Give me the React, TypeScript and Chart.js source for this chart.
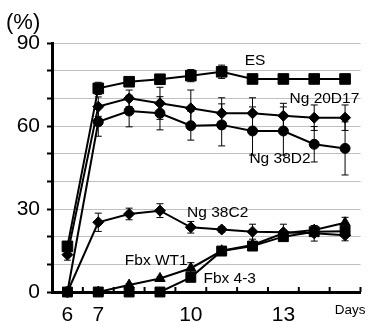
import React, { useEffect, useRef } from "react";
import { Chart, registerables } from "chart.js";

Chart.register(...registerables);

const days = ["6", "7", "8", "9", "10", "11", "12", "13", "14", "15"];
const shownDays = ["6", "7", "10", "13"];
const yTickLabels = [0, 30, 60, 90];

const es = [16.5, 73.6, 76, 76.9, 78.2, 79.6, 77, 77, 77, 77];
const esErr = [1.5, 2.2, 1.5, 1.5, 2.2, 2.4, 0, 0, 0, 0];
const ng20D17 = [13.5, 67, 70, 68.2, 66.4, 64.6, 64.6, 63.7, 63, 63];
const ng20D17Err = [2, 3.5, 3, 5.8, 6.6, 5.6, 5.6, 4.5, 4.6, 4.6];
const ng38D2 = [0, 61.5, 65.4, 64.6, 60.1, 60.4, 58.2, 58.2, 53.4, 51.9];
const ng38D2Err = [0, 5.2, 5.7, 6, 5.2, 7.6, 8.7, 8.7, 6.4, 9.6];
const ng38C2 = [0, 25.2, 28.2, 29.4, 23.4, 22.6, 21.8, 21.6, 21.2, 20.5];
const ng38C2Err = [0, 3.3, 2.1, 2.5, 2.1, 1, 2.7, 2.9, 2.8, 2];
const fbxWT1 = [0, 0, 2.5, 4.9, 8.6, 14.9, 17, 21.2, 22.4, 25];
const fbxWT1Err = [0, 0, 0.5, 0.5, 2, 1, 1, 1, 1.5, 2];
const fbx43 = [0, 0, 0, 0, 5.3, 14.8, 16.6, 20, 21.8, 22];
const fbx43Err = [0, 0, 0, 0, 1.5, 1, 1.5, 1.5, 1.5, 1.5];

const seriesNames = ["ES", "Ng 20D17", "Ng 38D2", "Ng 38C2", "Fbx WT1", "Fbx 4-3"];
// label anchor positions in data units (day index offset, percent)
const labelAnchors: [number, number][] = [
  [6.08, 83.5],
  [8.33, 69.7],
  [6.89, 48],
  [4.87, 28.7],
  [2.88, 11.2],
  [5.26, 4.7],
];

const FONT = "'Liberation Sans', Arial, sans-serif";

export default function App() {
  const ref = useRef<HTMLCanvasElement>(null);

  useEffect(() => {
    if (!ref.current) return;

    const errorBars = {
      id: "errorBars",
      afterDatasetsDraw(chart: any) {
        const ctx = chart.ctx;
        const xs = chart.scales.x;
        const ys = chart.scales.y;
        ctx.save();
        ctx.strokeStyle = "#000";
        ctx.lineWidth = 1;
        chart.data.datasets.forEach((ds: any) => {
          const errs: number[] = ds.errs || [];
          ds.data.forEach((v: number, i: number) => {
            const e = errs[i];
            if (!e) return;
            const x = xs.getPixelForValue(i);
            const y1 = ys.getPixelForValue(v + e);
            const y2 = ys.getPixelForValue(v - e);
            ctx.beginPath();
            ctx.moveTo(x, y1);
            ctx.lineTo(x, y2);
            ctx.moveTo(x - 3.5, y1);
            ctx.lineTo(x + 3.5, y1);
            ctx.moveTo(x - 3.5, y2);
            ctx.lineTo(x + 3.5, y2);
            ctx.stroke();
          });
        });
        ctx.restore();
      },
    };

    const decorations = {
      id: "decorations",
      afterDraw(chart: any) {
        const ctx = chart.ctx;
        const xs = chart.scales.x;
        const ys = chart.scales.y;
        const area = chart.chartArea;
        ctx.save();
        // upward category tick marks on x axis
        ctx.strokeStyle = "#000";
        ctx.lineWidth = 2;
        for (let i = 1; i <= days.length; i++) {
          const x = xs.getPixelForValue(i - 0.5);
          ctx.beginPath();
          ctx.moveTo(x, area.bottom);
          ctx.lineTo(x, area.bottom - 5);
          ctx.stroke();
        }
        // series labels
        ctx.fillStyle = "#000";
        ctx.font = `15.5px ${FONT}`;
        ctx.textAlign = "center";
        ctx.textBaseline = "middle";
        seriesNames.forEach((name, i) => {
          const [dx, dy] = labelAnchors[i];
          ctx.fillText(name, xs.getPixelForValue(dx), ys.getPixelForValue(dy));
        });
        // unit label and axis name
        ctx.font = `22px ${FONT}`;
        ctx.textAlign = "left";
        ctx.fillText("(%)", 6, 23);
        ctx.font = `13.5px ${FONT}`;
        ctx.textAlign = "right";
        ctx.fillText("Days", area.right + 5, area.bottom + 18);
        ctx.restore();
      },
    };

    const mk = (label: string, data: number[], errs: number[], style: string, r: number) => ({
      label,
      data,
      errs,
      borderColor: "#000",
      backgroundColor: "#000",
      pointBackgroundColor: "#000",
      pointBorderColor: "#000",
      pointBorderWidth: 1,
      borderWidth: 2,
      pointStyle: style,
      pointRadius: r,
      tension: 0,
      clip: false,
    });

    const chart = new Chart(ref.current, {
      type: "line",
      data: {
        labels: days,
        datasets: [
          mk("ES", es, esErr, "rect", 7.5),
          mk("Ng 20D17", ng20D17, ng20D17Err, "rectRot", 5.5),
          mk("Ng 38D2", ng38D2, ng38D2Err, "circle", 5),
          mk("Ng 38C2", ng38C2, ng38C2Err, "rectRot", 5.5),
          mk("Fbx WT1", fbxWT1, fbxWT1Err, "triangle", 6),
          mk("Fbx 4-3", fbx43, fbx43Err, "rect", 7),
        ] as any,
      },
      options: {
        animation: false,
        responsive: true,
        maintainAspectRatio: false,
        layout: { padding: { top: 43, right: 5, left: 0, bottom: 0 } },
        plugins: { legend: { display: false }, tooltip: { enabled: false } },
        scales: {
          x: {
            type: "category",
            offset: true,
            grid: { display: false, drawTicks: false },
            border: { display: true, color: "#000", width: 3 },
            ticks: {
              autoSkip: false,
              maxRotation: 0,
              padding: 11,
              color: "#000",
              font: { family: FONT, size: 21 },
              callback: (_v: any, i: number) => (shownDays.includes(days[i]) ? days[i] : ""),
            },
            afterFit: (s: any) => {
              s.height = 30;
            },
          },
          y: {
            min: 0,
            max: 90,
            grid: {
              color: "#c0c0c0",
              lineWidth: 1,
              tickColor: "#000",
              tickLength: 5,
              tickWidth: 2,
            },
            border: { display: true, color: "#000", width: 3 },
            ticks: {
              stepSize: 10,
              autoSkip: false,
              padding: 7,
              color: "#000",
              font: { family: FONT, size: 21 },
              callback: (v: any) => (yTickLabels.includes(Number(v)) ? String(v) : ""),
            },
            afterFit: (s: any) => {
              s.width = 52;
            },
          },
        },
      } as any,
      plugins: [errorBars, decorations],
    });

    return () => chart.destroy();
  }, []);

  return (
    <div style={{ position: "absolute", left: 0, top: 0, width: 369, height: 322, background: "#fff" }}>
      <canvas ref={ref} />
    </div>
  );
}
